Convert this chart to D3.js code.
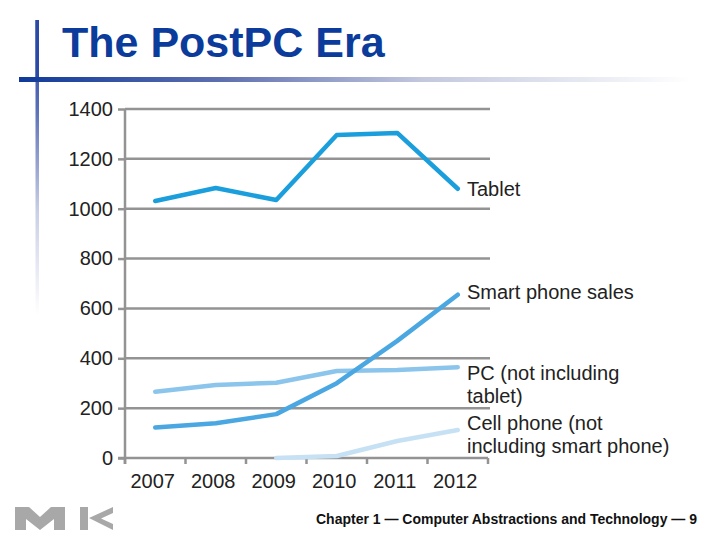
<!DOCTYPE html>
<html><head><meta charset="utf-8">
<script src="https://cdn.jsdelivr.net/npm/d3@7"></script>
<style>
html,body{margin:0;padding:0;background:#fff;}
svg{display:block;font-family:"Liberation Sans",Arial,sans-serif;}
</style></head>
<body>
<svg id="c" width="720" height="540"></svg>
<script>
const years = ["2007","2008","2009","2010","2011","2012"];
const tablet = [1031, 1083, 1035, 1296, 1304, 1080];
const smartPhone = [122, 139, 176, 300, 470, 655];
const pc = [266, 293, 302, 349, 353, 364];
const cellPhone = [null, null, 0, 8, 68, 112];
const yTicks = [0, 200, 400, 600, 800, 1000, 1200, 1400];
const seriesNames = [["Tablet"], ["Smart phone sales"], ["PC (not including", "tablet)"], ["Cell phone (not", "including smart phone)"]];
const title = "The PostPC Era";
const footer = "Chapter 1 \u2014 Computer Abstractions and Technology \u2014 9";

const svg = d3.select("#c");
const defs = svg.append("defs");

// Decorative title bars
const gv = defs.append("linearGradient").attr("id","gv").attr("x1",0).attr("y1",0).attr("x2",0).attr("y2",1);
gv.append("stop").attr("offset","0").attr("stop-color","#1b3c9c");
gv.append("stop").attr("offset","0.3").attr("stop-color","#5a6fb8");
gv.append("stop").attr("offset","0.65").attr("stop-color","#c9cfe6");
gv.append("stop").attr("offset","1").attr("stop-color","#ffffff");
const gh = defs.append("linearGradient").attr("id","gh").attr("x1",0).attr("y1",0).attr("x2",1).attr("y2",0);
gh.append("stop").attr("offset","0").attr("stop-color","#0f3a99");
gh.append("stop").attr("offset","0.3").attr("stop-color","#5e6fb0");
gh.append("stop").attr("offset","0.6").attr("stop-color","#c3c8de");
gh.append("stop").attr("offset","1").attr("stop-color","#ffffff");

svg.append("rect").attr("x",35.5).attr("y",20).attr("width",3.5).attr("height",295).attr("fill","url(#gv)");
svg.append("rect").attr("x",35.5).attr("y",20).attr("width",3.5).attr("height",58).attr("fill","#2a4aa6");
svg.append("rect").attr("x",19).attr("y",77).attr("width",672).attr("height",5).attr("fill","url(#gh)");

svg.append("text").attr("x",62).attr("y",57).attr("font-size",43).attr("font-weight","bold")
  .attr("fill","#0b3b9b").text(title);

// Chart
const pLeft = 125, pRight = 488, pTop = 109, pBottom = 458;
const x = d3.scaleBand().domain(years).range([pLeft, pRight]);
const y = d3.scaleLinear().domain([0, 1400]).range([pBottom, pTop]);
const cx = d => x(d) + x.bandwidth() / 2;

const grid = svg.append("g");
grid.selectAll("line").data(yTicks.filter(v => v > 0)).join("line")
  .attr("x1", pLeft).attr("x2", 490).attr("y1", d => y(d)).attr("y2", d => y(d))
  .attr("stroke", "#939393").attr("stroke-width", 2.5);

const yAxis = svg.append("g").attr("transform", `translate(${pLeft},0)`)
  .call(d3.axisLeft(y).tickValues(yTicks).tickSize(7).tickPadding(5).tickFormat(d3.format("d")));
yAxis.select(".domain").attr("stroke","#939393").attr("stroke-width",2.5).attr("d", `M0,${pTop}V${pBottom+6}`);
yAxis.selectAll(".tick line").attr("stroke","#939393").attr("stroke-width",2.5);
yAxis.selectAll(".tick text").attr("font-size",20).attr("fill","#222").attr("font-family","Liberation Sans, Arial, sans-serif");

const xAxis = svg.append("g").attr("transform", `translate(0,${pBottom})`)
  .call(d3.axisBottom(x).tickSize(0).tickPadding(16));
xAxis.select(".domain").remove();
xAxis.selectAll(".tick text").attr("font-size",20).attr("fill","#222").attr("dx",-2.5)
  .attr("font-family","Liberation Sans, Arial, sans-serif");
svg.append("line").attr("x1", pLeft-7).attr("x2", pRight).attr("y1", pBottom).attr("y2", pBottom)
  .attr("stroke","#939393").attr("stroke-width",2.5);
const edges = years.map(d => x(d)).concat([x.range()[1]]);
svg.append("g").selectAll("line").data(edges).join("line")
  .attr("x1", d => d).attr("x2", d => d).attr("y1", pBottom).attr("y2", pBottom + 6)
  .attr("stroke","#939393").attr("stroke-width",2.5);

const series = [
  {vals: cellPhone, color: "#c6e1f4"},
  {vals: pc, color: "#8cc5ec"},
  {vals: smartPhone, color: "#4aa7e1"},
  {vals: tablet, color: "#1a9fdc"}
];
const line = d3.line().defined(d => d[1] != null).x(d => cx(d[0])).y(d => y(d[1]));
svg.append("g").selectAll("path").data(series).join("path")
  .attr("d", s => line(years.map((yr, i) => [yr, s.vals[i]])))
  .attr("fill","none").attr("stroke", s => s.color).attr("stroke-width",4.5)
  .attr("stroke-linejoin","round").attr("stroke-linecap","round");

// Series labels
const lastVals = [tablet[5], smartPhone[5], pc[5], cellPhone[5]];
const labelDy = [7, 4, 13, 0];
const lab = svg.append("g").attr("font-size",20).attr("fill","#222");
seriesNames.forEach((lines, i) => {
  const t = lab.append("text").attr("x", 467).attr("y", y(lastVals[i]) + labelDy[i]);
  lines.forEach((s, j) => t.append("tspan").attr("x", 467).attr("dy", j === 0 ? 0 : 23).text(s));
});

// Footer logo (decorative)
const logo = svg.append("g").attr("fill","#a8a8a8");
logo.append("path").attr("d","M15,507H29L40,517L51,507H65V530H54V519L40,530L26,519V530H15Z");
logo.append("rect").attr("x",80).attr("y",507).attr("width",8).attr("height",23);
logo.append("path").attr("d","M89,518L113,507V513L101,518.5L113,524V530Z");

svg.append("text").attr("x",697).attr("y",524).attr("text-anchor","end").attr("font-size",14)
  .attr("font-family","'Liberation Sans Narrow', 'Liberation Sans', Arial, sans-serif").attr("font-weight","bold")
  .attr("fill","#111").attr("textLength",381).attr("lengthAdjust","spacingAndGlyphs").text(footer);
</script>
</body></html>
